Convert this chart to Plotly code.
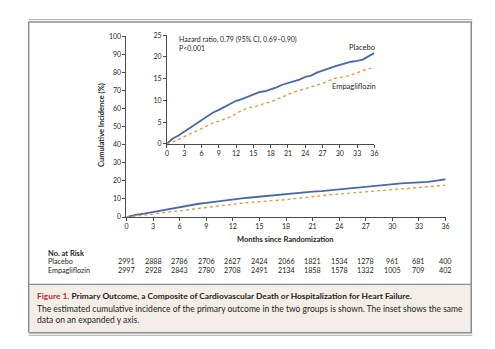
import plotly.graph_objects as go

W, H = 495, 349

months = list(range(37))
placebo = [0, 1.2, 1.9, 2.8, 3.8, 4.6, 5.6, 6.3, 7.2, 7.8, 8.5, 9.2, 9.9, 10.3, 10.8,
           11.3, 11.9, 12.1, 12.5, 13.0, 13.6, 14.0, 14.3, 14.8, 15.4, 15.7, 16.4,
           16.9, 17.4, 17.8, 18.2, 18.6, 18.9, 19.1, 19.4, 20.2, 20.9]
empagliflozin = [0, 0.4, 1.0, 1.6, 2.3, 2.9, 3.5, 4.2, 4.8, 5.2, 5.7, 6.2, 6.9, 7.7, 8.2,
                 8.5, 8.8, 9.4, 9.6, 10.2, 10.8, 11.4, 11.9, 12.3, 12.7, 13.1, 13.5,
                 13.9, 14.5, 15.0, 15.3, 15.5, 15.9, 16.3, 16.9, 17.3, 17.6]

risk_months = list(range(0, 37, 3))
risk_placebo = [2991, 2888, 2786, 2706, 2627, 2424, 2066, 1821, 1534, 1278, 961, 681, 400]
risk_empa = [2997, 2928, 2843, 2780, 2708, 2491, 2134, 1858, 1578, 1332, 1005, 709, 402]

BLUE = "#4a68ad"
ORANGE = "#e79b3a"
FONT = "Lato"
TXT = "#231f20"


def px(x):
    return x / W


def py(y):
    return 1 - y / H


fig = go.Figure()

for xa, ya in (("x", "y"), ("x2", "y2")):
    fig.add_trace(go.Scatter(x=months, y=placebo, mode="lines", xaxis=xa, yaxis=ya,
                             line=dict(color=BLUE, width=1.8), showlegend=False))
    fig.add_trace(go.Scatter(x=months, y=empagliflozin, mode="lines", xaxis=xa, yaxis=ya,
                             line=dict(color=ORANGE, width=1.4, dash="dot"), showlegend=False))

axis_common = dict(showgrid=False, zeroline=False, showline=True, linecolor="#4a4a4a",
                   linewidth=1, ticks="outside", ticklen=3, tickcolor="#4a4a4a",
                   tickfont=dict(family=FONT, size=7, color=TXT))

fig.update_layout(
    width=W, height=H,
    margin=dict(l=0, r=0, t=0, b=0),
    paper_bgcolor="white", plot_bgcolor="rgba(0,0,0,0)",
    font=dict(family=FONT, color=TXT),
    xaxis=dict(domain=[px(126), px(449)], range=[0, 36], tickvals=risk_months,
               anchor="y", **axis_common),
    yaxis=dict(domain=[py(217), py(32)], range=[0, 100], tickvals=list(range(0, 101, 10)),
               anchor="x", **axis_common),
    xaxis2=dict(domain=[px(167), px(377)], range=[0, 36], tickvals=risk_months,
                anchor="y2", **axis_common),
    yaxis2=dict(domain=[py(142), py(31)], range=[0, 25], tickvals=list(range(0, 26, 5)),
                anchor="x2", **axis_common),
)

ann = []


def text(x, y, s, size=7, anchor="left", bold=False, color=TXT, **kw):
    if bold:
        s = "<b>" + s + "</b>"
    ann.append(dict(x=x, y=y, xref=kw.pop("xref", "paper"), yref="paper", text=s,
                    showarrow=False, xanchor=anchor, yanchor="middle",
                    font=dict(family=FONT, size=size, color=color), **kw))


text(px(177), py(35), "Hazard ratio, 0.79 (95% CI, 0.69–0.90)", size=7)
text(px(177), py(44.5), "P<0.001", size=7)
text(px(349), py(43), "Placebo", size=7.5)
text(px(332), py(83), "Empagliflozin", size=7.5)
text(px(100), py(123), "Cumulative Incidence (%)", size=7.5, anchor="center", bold=True,
     textangle=-90)
text(px(287), py(240), "Months since Randomization", size=7.5, anchor="center", bold=True)

text(px(45), py(254), "No. at Risk", size=7.5, bold=True)
text(px(45), py(263), "Placebo", size=7.2)
text(px(45), py(272), "Empagliflozin", size=7.2)
for m, a, b in zip(risk_months, risk_placebo, risk_empa):
    text(m, py(263), str(a), size=7.2, anchor="center", xref="x")
    text(m, py(272), str(b), size=7.2, anchor="center", xref="x")

text(px(33), py(298), "<span style='color:#c1272d'>Figure 1.</span> Primary Outcome, a "
     "Composite of Cardiovascular Death or Hospitalization for Heart Failure.",
     size=8.4, bold=True)
text(px(33), py(311), "The estimated cumulative incidence of the primary outcome in the two "
     "groups is shown. The inset shows the same", size=8.5)
text(px(33), py(322), "data on an expanded y axis.", size=8.5)

fig.update_layout(annotations=ann)

GRAY = "#8c8c8c"


def hline(y, x0, x1, color, width):
    return dict(type="line", xref="paper", yref="paper", x0=px(x0), x1=px(x1),
                y0=py(y), y1=py(y), line=dict(color=color, width=width))


def vline(x, y0, y1, color, width):
    return dict(type="line", xref="paper", yref="paper", x0=px(x), x1=px(x),
                y0=py(y0), y1=py(y1), line=dict(color=color, width=width))


shapes = [
    # caption panel
    dict(type="rect", xref="paper", yref="paper", x0=px(27), x1=px(475),
         y0=py(286), y1=py(335), fillcolor="#f3eee7", line=dict(width=0), layer="below"),
    # frame
    hline(15, 27, 476, "#a8a8a8", 1),
    hline(17.5, 27, 476, GRAY, 1.5),
    vline(27, 17.5, 335, GRAY, 1.5),
    vline(475, 17.5, 335, GRAY, 1.5),
    hline(286, 27, 475, GRAY, 1.2),
    hline(335.5, 27, 476, GRAY, 1.5),
    hline(338, 27, 476, "#a8a8a8", 1),
]
fig.update_layout(shapes=shapes)

fig.write_html("out.html")
